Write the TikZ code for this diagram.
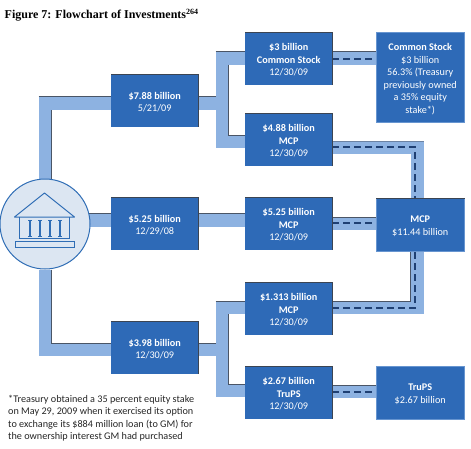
\documentclass[tikz,border=0pt]{standalone}
\usepackage{fontspec}
\setmainfont{Carlito}
\newfontfamily\titlefont{Liberation Serif}
\usetikzlibrary{backgrounds,calc}
\definecolor{boxblue}{HTML}{2E6AB7}
\definecolor{bandblue}{HTML}{8DB2E1}
\definecolor{edgedark}{HTML}{4A5566}
\definecolor{navy}{HTML}{1F4073}
\definecolor{iconblue}{HTML}{2F6DB5}
\definecolor{circfill}{HTML}{DCE6F2}
\newcommand\liftA{\rule{0pt}{9.7pt}}
\newcommand\liftB{\rule{0pt}{11pt}}
\tikzset{
  x=1pt,y=-1pt,
  money/.style={font=\fontsize{10.2}{12.5}\selectfont,text=white,inner sep=0pt,align=center,anchor=north west,fill=boxblue,draw=none},
  stepb/.style={money,minimum width=87pt,minimum height=53pt},
  endb/.style={money,minimum width=88pt,draw=bandblue!60!boxblue,line width=0.5pt},
  band/.style={draw=bandblue,line width=13pt,line join=miter},
  rim/.style={draw=edgedark,line width=0.6pt},
  faintrim/.style={draw=edgedark!50!bandblue,line width=0.5pt},
  flow/.style={draw=navy,line width=1.3pt,dash pattern=on 6.5pt off 4.5pt},
  boxrim/.style={draw=edgedark!80!black,line width=0.6pt},
  icon/.style={draw=iconblue,line width=1pt},
}
\begin{document}
\begin{tikzpicture}
\useasboundingbox (0,0) rectangle (471,448);
\node[anchor=west,inner sep=0pt,font=\titlefont\bfseries\fontsize{12}{14}\selectfont] (title) at (4.5,15) {Figure 7: Flowchart of Investments\textsuperscript{264}};

\node[stepb] (a) at (111,74) {\liftA\textbf{\$7.88 billion}\\5/21/09};
\node[stepb] (b) at (111,197) {\liftA\textbf{\$5.25 billion}\\12/29/08};
\node[stepb] (c) at (111,321) {\liftA\textbf{\$3.98 billion}\\12/30/09};
\node[stepb] (d) at (245,32) {\liftA\textbf{\$3 billion}\\\textbf{Common Stock}\\12/30/09};
\node[stepb] (e) at (245,113) {\liftA\textbf{\$4.88 billion}\\\textbf{MCP}\\12/30/09};
\node[stepb] (f) at (245,197) {\liftA\textbf{\$5.25 billion}\\\textbf{MCP}\\12/30/09};
\node[stepb] (g) at (245,282) {\liftA\textbf{\$1.313 billion}\\\textbf{MCP}\\12/30/09};
\node[stepb] (h) at (245,366) {\liftA\textbf{\$2.67 billion}\\\textbf{TruPS}\\12/30/09};
\node[endb,minimum height=90pt] (cs) at (376,32) {\liftB\textbf{Common Stock}\\\$3 billion\\56.3\% (Treasury\\previously owned\\a 35\% equity\\stake*)};
\node[endb,minimum height=53pt] (mcp) at (376,198) {\liftA\textbf{MCP}\\\$11.44 billion};
\node[endb,minimum height=53pt] (tru) at (376,366) {\liftA\textbf{TruPS}\\\$2.67 billion};

\node[circle,draw=iconblue,line width=1pt,fill=circfill,minimum size=90pt,inner sep=0pt] (bank) at (45,224) {};

% temple icon
\draw[icon,line join=round] (14.5,217) -- (44.5,193) -- (74.5,217) -- cycle;
\draw[icon] (19.5,217) -- (19.5,238) -- (69.5,238) -- (69.5,217);
\foreach \cx in {30,40,50,60}{
  \draw[icon,line width=1.8pt] (\cx,220) -- (\cx,236);
  \draw[icon,line width=0.8pt] (\cx-2,220) -- (\cx+2,220);
  \draw[icon,line width=0.8pt] (\cx-2,236) -- (\cx+2,236);
}
\draw[icon] (15.5,241) rectangle (74,247);

\node[anchor=north west,inner sep=0pt,align=left,text=black!85,font=\fontsize{10.2}{12.5}\selectfont] (note) at (8,395) {*Treasury obtained a 35 percent equity stake\\on May 29, 2009 when it exercised its option\\to exchange its \$884 million loan (to GM) for\\the ownership interest GM had purchased};

\foreach \n in {a,b,c,d,e,f,g,h}{
  \draw[boxrim] (\n.north west) -- (\n.north east) -- (\n.south east);
}
\draw[boxrim] (mcp.north west) -- (mcp.north east);

\begin{scope}[on background layer]
  % bands from the bank to the first column
  \coordinate (ta) at (45,103);
  \coordinate (tc) at (45,349.5);
  \draw[band] (bank.north) -- (ta) -- (ta -| a.west);
  \draw[band] ([xshift=-8pt]bank.east |- 0,220) -- (f.west |- 0,220);
  \draw[band] (bank.south) -- (tc) -- (tc -| c.west);
  % rims
  \draw[rim] (38.5,96.5) -- (a.west |- 0,96.5);
  \draw[rim] (bank.north -| 51.5,0) -- (51.5,109.5);
  \draw[rim] (bank.south -| 51.5,0) -- (51.5,343) -- (c.west |- 0,343);
  % brackets
  \coordinate (abr) at (222,103);
  \coordinate (cbr) at (222,349.5);
  \draw[band] (a.east |- abr) -- (abr);
  \draw[band] (d.west |- 0,58) -- (222,58) -- (222,141.5) -- (e.west |- 0,141.5);
  \draw[band] (c.east |- cbr) -- (cbr);
  \draw[band] (g.west |- 0,307.5) -- (222,307.5) -- (222,390.5) -- (h.west |- 0,390.5);
  \draw[rim] (a.east |- 0,96.5) -- (215.5,96.5);
  \draw[rim] (215.5,51.5) -- (d.west |- 0,51.5);
  \draw[rim] (228.5,64.5) -- (228.5,135) -- (e.west |- 0,135);
  \draw[rim] (c.east |- 0,343) -- (215.5,343);
  \draw[rim] (215.5,301) -- (g.west |- 0,301);
  \draw[rim] (228.5,314) -- (228.5,384) -- (h.west |- 0,384);
  \draw[rim] (b.east |- 0,213.5) -- (f.west |- 0,213.5);
  \draw[rim] ([xshift=-2pt]bank.east |- 0,213.5) -- (b.west |- 0,213.5);
  % right-hand links
  \draw[band] (d.east |- 0,58) -- (cs.west |- 0,58);
  \draw[band] (f.east |- 0,223) -- (mcp.west |- 0,223);
  \draw[band] (h.east |- 0,391) -- (tru.west |- 0,391);
  \draw[band] (e.east |- 0,147.5) -- (417,147.5) -- (417,230) ;
  \draw[band] (g.east |- 0,307.5) -- (417,307.5) -- (417,230);
  \draw[rim] (d.east |- 0,51.5) -- (cs.west |- 0,51.5);
  \draw[rim] (f.east |- 0,217) -- (mcp.west |- 0,217);
  \draw[rim] (h.east |- 0,385) -- (tru.west |- 0,385);
  \draw[faintrim] (e.east |- 0,141) -- (423.5,141);
  \draw[rim] (g.east |- 0,301) -- (410.5,301) -- (mcp.south -| 410.5,0);
  \draw[flow] (d.east |- 0,59) -- (cs.west |- 0,59);
  \draw[flow] (f.east |- 0,223) -- (mcp.west |- 0,223);
  \draw[flow] (h.east |- 0,392) -- (tru.west |- 0,392);
  \draw[flow] (e.east |- 0,147) -- (415,147) -- (mcp.north -| 415,0);
  \draw[flow] (g.east |- 0,308) -- (415,308) -- (mcp.south -| 415,0);
\end{scope}
\end{tikzpicture}
\end{document}
